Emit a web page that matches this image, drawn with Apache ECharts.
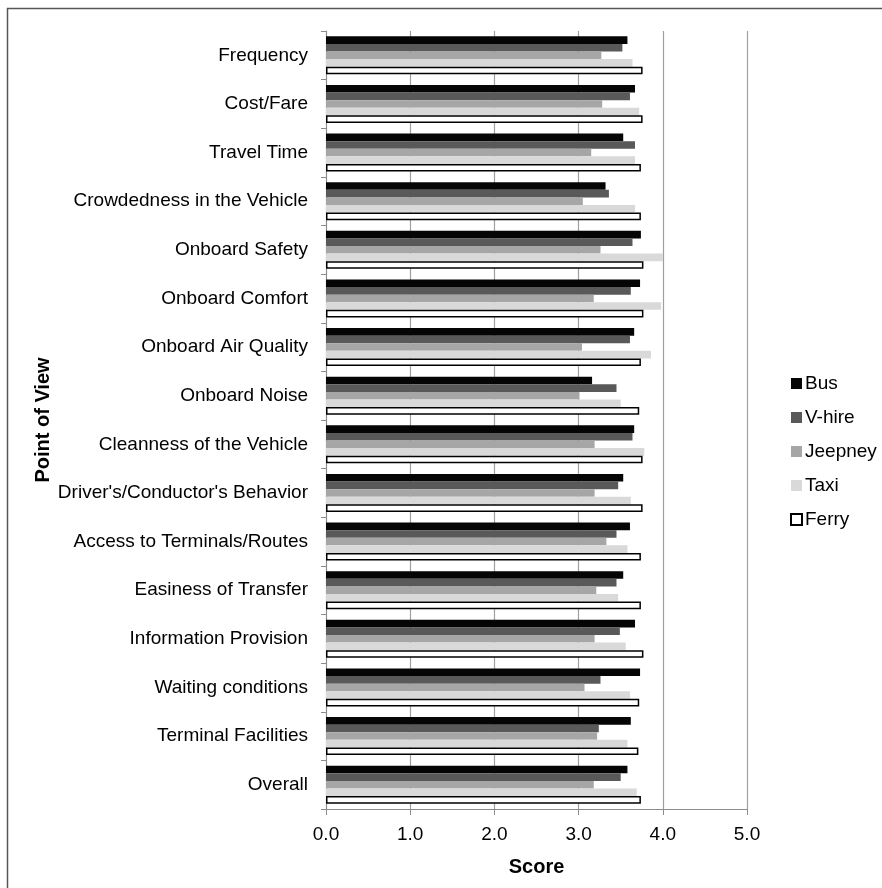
<!DOCTYPE html>
<html>
<head>
<meta charset="utf-8">
<script src="https://cdn.jsdelivr.net/npm/echarts@6/dist/echarts.min.js"></script>
<style>
  html, body { margin: 0; padding: 0; background: #fff; }
  #chart { width: 882px; height: 888px; }
</style>
</head>
<body>
<div id="chart"></div>
<script>
// Service attributes rated by users of each mode
const categories = [
  'Frequency', 'Cost/Fare', 'Travel Time', 'Crowdedness in the Vehicle',
  'Onboard Safety', 'Onboard Comfort', 'Onboard Air Quality', 'Onboard Noise',
  'Cleanness of the Vehicle', "Driver's/Conductor's Behavior",
  'Access to Terminals/Routes', 'Easiness of Transfer', 'Information Provision',
  'Waiting conditions', 'Terminal Facilities', 'Overall'
];

const bus     = [3.58, 3.67, 3.53, 3.32, 3.74, 3.73, 3.66, 3.16, 3.66, 3.53, 3.61, 3.53, 3.67, 3.73, 3.62, 3.58];
const vhire   = [3.52, 3.61, 3.67, 3.36, 3.64, 3.62, 3.61, 3.45, 3.64, 3.47, 3.45, 3.45, 3.49, 3.26, 3.24, 3.50];
const jeepney = [3.27, 3.28, 3.15, 3.05, 3.26, 3.18, 3.04, 3.01, 3.19, 3.19, 3.33, 3.21, 3.19, 3.07, 3.22, 3.18];
const taxi    = [3.64, 3.72, 3.67, 3.67, 4.00, 3.98, 3.86, 3.50, 3.78, 3.62, 3.58, 3.47, 3.56, 3.61, 3.58, 3.69];
const ferry   = [3.76, 3.76, 3.74, 3.74, 3.77, 3.77, 3.74, 3.72, 3.76, 3.76, 3.74, 3.74, 3.77, 3.72, 3.71, 3.74];

const seriesNames = ['Bus', 'V-hire', 'Jeepney', 'Taxi', 'Ferry'];
const seriesData = [bus, vhire, jeepney, taxi, ferry];

const FONT = "'Liberation Sans', Arial, sans-serif";
const fills = ['#050505', '#595959', '#a6a6a6', '#d9d9d9', '#ffffff'];

const chart = echarts.init(document.getElementById('chart'), null, { renderer: 'canvas' });

const series = seriesNames.map((name, i) => ({
  name: name,
  type: 'bar',
  data: seriesData[i],
  barGap: '0%',
  barCategoryGap: '22%',
  itemStyle: i === 4
    ? { color: '#ffffff', borderColor: '#000000', borderWidth: 1.5 }
    : { color: fills[i] }
}));

chart.setOption({
  backgroundColor: '#ffffff',
  animation: false,
  textStyle: { fontFamily: FONT },
  graphic: [{
    type: 'rect',
    left: 5, top: 6,
    shape: { width: 900, height: 900 },
    style: { fill: 'none', stroke: '#555555', lineWidth: 1.5 },
    silent: true
  }],
  grid: { left: 326, right: 135, top: 31, bottom: 79 },
  legend: {
    orient: 'vertical',
    left: 790,
    top: 374,
    itemWidth: 11,
    itemHeight: 11,
    itemGap: 15,
    icon: 'rect',
    padding: 0,
    textStyle: { fontFamily: FONT, fontSize: 19, color: '#000', padding: [0, 0, 0, -2] },
    data: seriesNames
  },
  xAxis: {
    type: 'value',
    min: 0,
    max: 5,
    interval: 1,
    name: 'Score',
    nameLocation: 'middle',
    nameGap: 48,
    nameTextStyle: { fontFamily: FONT, fontSize: 20, fontWeight: 'bold', color: '#000' },
    axisLine: { show: true, lineStyle: { color: '#8c8c8c', width: 1 } },
    axisTick: { show: true, length: 6, lineStyle: { color: '#8c8c8c' } },
    axisLabel: {
      fontFamily: FONT, fontSize: 19, color: '#000', margin: 16,
      formatter: v => v.toFixed(1)
    },
    splitLine: { show: true, lineStyle: { color: '#a0a0a0', width: 1.2 } }
  },
  yAxis: {
    type: 'category',
    data: categories,
    inverse: true,
    name: 'Point of View',
    nameLocation: 'middle',
    nameGap: 273,
    nameRotate: 90,
    nameTextStyle: { fontFamily: FONT, fontSize: 20, fontWeight: 'bold', color: '#000' },
    axisLine: { show: true, lineStyle: { color: '#8c8c8c', width: 1 } },
    axisTick: { show: true, length: 5, lineStyle: { color: '#8c8c8c' } },
    axisLabel: { fontFamily: FONT, fontSize: 19, color: '#000', margin: 18, interval: 0 },
    splitLine: { show: false }
  },
  series: series
});
</script>
</body>
</html>
